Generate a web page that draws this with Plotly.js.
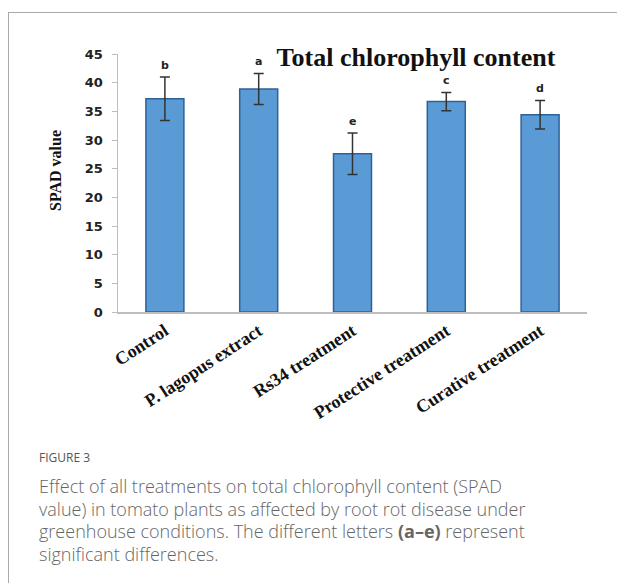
<!DOCTYPE html>
<html>
<head>
<meta charset="utf-8">
<script src="https://cdn.plot.ly/plotly-3.0.1.min.js"></script>
<style>
  html, body { margin: 0; padding: 0; background: #fff; }
  #frame { position: absolute; left: 8px; top: 12px; width: 700px; height: 700px;
           border-left: 1px solid #a9a9a9; border-top: 1px solid #a9a9a9; }
  #chart { position: absolute; left: 0; top: 0; width: 617px; height: 583px; }
</style>
</head>
<body>
<div id="frame"></div>
<div id="chart"></div>
<script>
// ---- data ----
const categories = ["Control", "P. lagopus extract", "Rs34 treatment", "Protective treatment", "Curative treatment"];
const spadValues = [37.2, 38.9, 27.6, 36.7, 34.4];
const spadErrors = [3.8, 2.7, 3.6, 1.6, 2.5];
const sigLetters = ["b", "a", "e", "c", "d"];
const yTickValues = [0, 5, 10, 15, 20, 25, 30, 35, 40, 45];

const captionHead = "FIGURE 3";
const captionLines = [
  "Effect of all treatments on total chlorophyll content (SPAD",
  "value) in tomato plants as affected by root rot disease under",
  "greenhouse conditions. The different letters <b>(a–e)</b> represent",
  "significant differences."
];

// ---- layout helpers ----
const W = 617, H = 583;
const M = { l: 118, r: 30, t: 54, b: 271 };
const PW = W - M.l - M.r, PH = H - M.t - M.b;
const px2x = px => (px - M.l) / PW;
const py2y = py => (H - M.b - py) / PH;

const trace = {
  type: "bar",
  x: categories,
  y: spadValues,
  marker: { color: "#5b9bd5", line: { color: "#2f6199", width: 1.5 } },
  error_y: { type: "data", array: spadErrors, visible: true, color: "#333", thickness: 1.5, width: 5 },
  hoverinfo: "x+y"
};

const letterAnns = categories.map((c, i) => ({
  x: c, y: spadValues[i] + spadErrors[i], xref: "x", yref: "y",
  text: "<b>" + sigLetters[i] + "</b>", showarrow: false, yanchor: "bottom", yshift: 3,
  font: { family: "DejaVu Sans", size: 11, color: "#222" }
}));

const yTitleAnn = {
  text: "<b>SPAD value</b>", xref: "paper", yref: "paper",
  x: px2x(55), y: py2y(171), xanchor: "center", yanchor: "middle",
  textangle: -90, showarrow: false,
  font: { family: "Liberation Serif", size: 16, color: "#111" }
};

const captionAnns = [
  { text: captionHead, x: px2x(37), y: py2y(457), xanchor: "left", yanchor: "middle",
    font: { family: "Open Sans", size: 12, color: "#555" } }
].concat(captionLines.map((t, i) => ({
  text: t, x: px2x(37), y: py2y(486 + i * 22.5), xanchor: "left", yanchor: "middle",
  font: { family: "Open Sans", size: 18, color: "#666", weight: 300 }
}))).map(a => Object.assign({ xref: "paper", yref: "paper", showarrow: false, align: "left" }, a));

const layout = {
  width: W, height: H,
  margin: M,
  paper_bgcolor: "rgba(0,0,0,0)",
  plot_bgcolor: "rgba(0,0,0,0)",
  showlegend: false,
  bargap: 0.595,
  title: {
    text: "<b>Total chlorophyll content</b>",
    xref: "paper", yref: "paper", x: px2x(416), y: py2y(57),
    xanchor: "center", yanchor: "middle",
    font: { family: "Liberation Serif", size: 26, color: "#111" }
  },
  xaxis: {
    showline: true, linecolor: "#bdbdbd", linewidth: 1.5,
    ticks: "", tickangle: -33,
    tickfont: { family: "Liberation Serif", size: 18, color: "#111", weight: "bold" },
    showgrid: false, zeroline: false
  },
  yaxis: {
    range: [0, 45], tickvals: yTickValues,
    showline: true, linecolor: "#bdbdbd", linewidth: 1.5,
    ticks: "outside", ticklen: 5, tickcolor: "#bdbdbd", ticklabelstandoff: 6,
    tickfont: { family: "DejaVu Sans", size: 13, color: "#222", weight: "bold" },
    showgrid: false, zeroline: false
  },
  annotations: letterAnns.concat([yTitleAnn], captionAnns)
};

Plotly.newPlot("chart", [trace], layout, { displayModeBar: false, staticPlot: true });
</script>
</body>
</html>
